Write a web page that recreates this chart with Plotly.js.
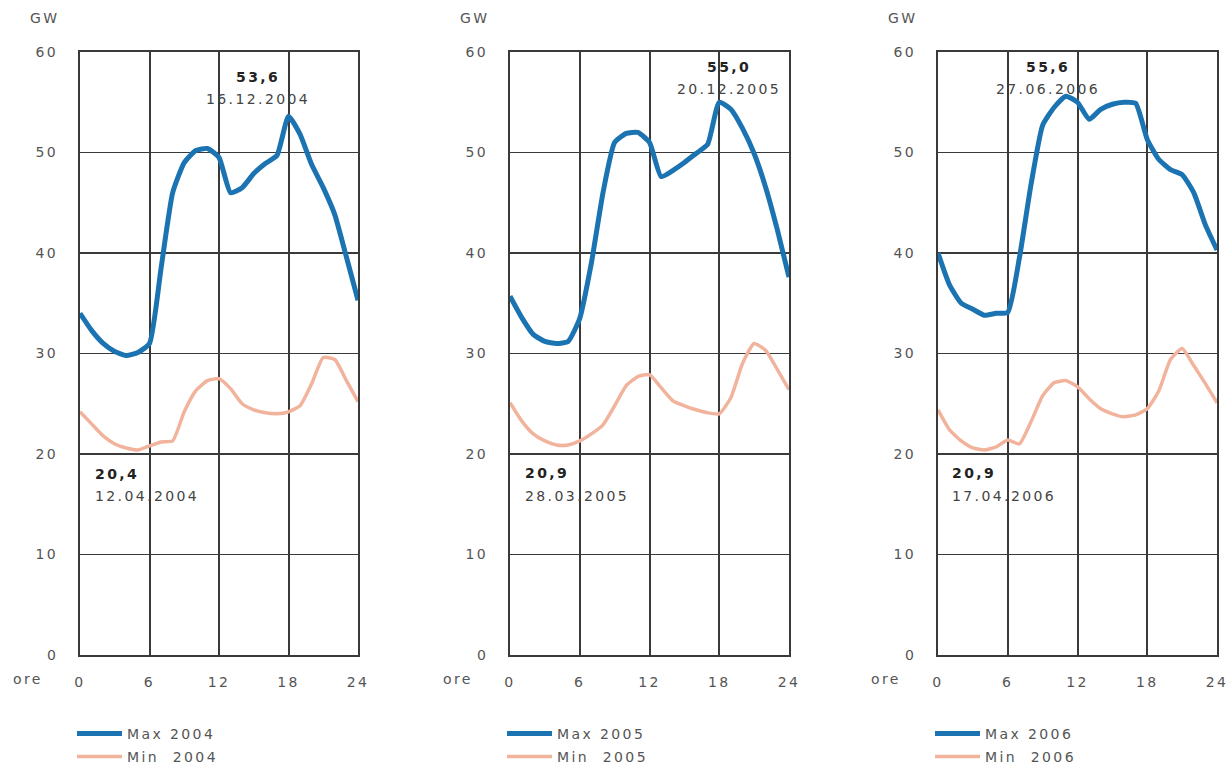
<!DOCTYPE html>
<html>
<head>
<meta charset="utf-8">
<script src="https://cdn.plot.ly/plotly-3.0.1.min.js"></script>
<style>
html,body{margin:0;padding:0;background:#fff;}
#chart{width:1228px;height:766px;}
svg text{letter-spacing:2.4px;}
</style>
</head>
<body>
<div id="chart"></div>
<script>
// ---- data ----
const hours = [0,1,2,3,4,5,6,7,8,9,10,11,12,13,14,15,16,17,18,19,20,21,22,23,24];
const xTicks = [0,6,12,18,24];
const yTicks = [0,10,20,30,40,50,60];

const max2004 = [34.0,32.3,31.0,30.2,29.8,30.1,31.0,38.5,46.0,49.0,50.2,50.4,49.5,46.0,46.5,47.9,48.9,49.7,53.6,51.8,48.8,46.5,43.8,39.6,35.3];
const min2004 = [24.2,23.0,21.8,21.0,20.6,20.4,20.8,21.2,21.3,24.2,26.3,27.3,27.5,26.5,25.0,24.4,24.1,24.0,24.2,24.8,27.0,29.6,29.4,27.3,25.2];
const max2005 = [35.7,33.6,31.9,31.2,31.0,31.2,33.5,39.0,46.0,51.0,51.9,52.0,51.0,47.6,48.2,49.0,49.9,50.8,55.0,54.3,52.4,49.9,46.5,42.3,37.6];
const min2005 = [25.1,23.3,22.0,21.3,20.9,20.9,21.3,22.0,22.9,24.8,26.8,27.7,27.9,26.6,25.3,24.8,24.4,24.1,24.0,25.6,29.0,31.0,30.3,28.4,26.4];
const max2006 = [40.0,36.8,35.0,34.4,33.8,34.0,34.1,39.5,46.8,52.7,54.5,55.6,55.0,53.3,54.3,54.8,55.0,54.9,51.3,49.3,48.3,47.8,46.0,42.8,40.3];
const min2006 = [24.4,22.4,21.3,20.6,20.4,20.7,21.4,21.0,23.2,25.8,27.1,27.3,26.7,25.5,24.5,24.0,23.7,23.9,24.5,26.3,29.4,30.5,28.8,27.0,25.1];

const maxNames = ['Max 2004','Max 2005','Max 2006'];
const minNames = ['Min\u00a0 2004','Min\u00a0 2005','Min\u00a0 2006'];
const peakValues = ['53,6','55,0','55,6'];
const peakDates = ['16.12.2004','20.12.2005','27.06.2006'];
const lowValues = ['20,4','20,9','20,9'];
const lowDates = ['12.04.2004','28.03.2005','17.04.2006'];
const unitLabel = 'GW';
const hourLabel = 'ore';

// ---- layout helpers ----
const W = 1228, H = 766;
const px = v => v / W;
const py = v => 1 - v / H;
const panelsPx = [[80,358],[510,789],[938,1217]];
const yDomain = [py(655), py(52)];
const blue = '#1b74b1';
const salmon = '#f2b39d';
const gridCol = '#3a3a3a';
const FAM = 'DejaVu Sans, sans-serif';
const tickFont = {family:FAM, size:14, color:'#555'};

const maxSeries = [max2004, max2005, max2006];
const minSeries = [min2004, min2005, min2006];

const traces = [];
const layout = {
  width: W, height: H,
  margin: {l:0, r:0, t:0, b:0, autoexpand:false},
  paper_bgcolor:'#fff', plot_bgcolor:'#fff',
  font: {family:FAM, size:14, color:'#444'},
  annotations: [],
  showlegend: true
};

for (let i = 0; i < 3; i++) {
  const sx = i === 0 ? '' : String(i + 1);
  const xa = 'x' + sx, ya = 'y' + sx;
  const lgMax = 'legend' + (i === 0 ? '' : String(2 * i + 1));
  const lgMin = 'legend' + String(2 * i + 2);
  traces.push({
    x: hours, y: maxSeries[i], xaxis: xa, yaxis: ya, type: 'scatter', mode: 'lines',
    name: maxNames[i], legend: lgMax,
    line: {color: blue, width: 5, shape: 'spline', smoothing: 0.5}
  });
  traces.push({
    x: hours, y: minSeries[i], xaxis: xa, yaxis: ya, type: 'scatter', mode: 'lines',
    name: minNames[i], legend: lgMin,
    line: {color: salmon, width: 3.5, shape: 'spline', smoothing: 0.5}
  });
  const [l, r] = panelsPx[i];
  layout['xaxis' + sx] = {
    domain: [px(l), px(r)], range: [0, 24], anchor: ya,
    tickvals: xTicks, ticktext: xTicks.map(String), ticks: '',
    showgrid: true, gridcolor: gridCol, gridwidth: 2,
    zeroline: false, showline: true, linecolor: gridCol, linewidth: 2, mirror: true,
    tickfont: tickFont, ticklabelstandoff: 13, ticklabeloverflow: 'allow', fixedrange: true
  };
  layout['yaxis' + sx] = {
    domain: yDomain, range: [0, 60], anchor: xa,
    tickvals: yTicks, ticktext: yTicks.map(String), ticks: '',
    showgrid: true, gridcolor: gridCol, gridwidth: 1.8,
    zeroline: false, showline: true, linecolor: gridCol, linewidth: 2, mirror: true,
    tickfont: tickFont, ticklabelstandoff: 17, fixedrange: true
  };
  // legends
  const lgFont = {family:FAM, size:14, color:'#555'};
  layout[lgMax] = {x: px(l - 8), y: py(734), xanchor:'left', yanchor:'middle',
    bgcolor:'rgba(0,0,0,0)', borderwidth:0, font: lgFont, itemwidth: 45};
  layout[lgMin] = {x: px(l - 8), y: py(757), xanchor:'left', yanchor:'middle',
    bgcolor:'rgba(0,0,0,0)', borderwidth:0, font: lgFont, itemwidth: 45};
  // axis captions
  layout.annotations.push({xref:'paper', yref:'paper', x: px(l - 35), y: py(18),
    text: unitLabel, showarrow:false, xanchor:'center', yanchor:'middle', font: tickFont});
  layout.annotations.push({xref:'paper', yref:'paper', x: px(l - 52), y: py(679),
    text: hourLabel, showarrow:false, xanchor:'center', yanchor:'middle', font: tickFont});
}

// value annotations
const peakPx = [[258,77,99],[729,67,89],[1048,67,89]];
const lowPx = [[93,474,496],[523,473,496],[950,473,496]];
for (let i = 0; i < 3; i++) {
  layout.annotations.push({xref:'paper', yref:'paper', x: px(peakPx[i][0]), y: py(peakPx[i][1]),
    text: '<b>' + peakValues[i] + '</b>', showarrow:false, xanchor:'center', yanchor:'middle',
    font:{family:FAM, size:14, color:'#222'}});
  layout.annotations.push({xref:'paper', yref:'paper', x: px(peakPx[i][0]), y: py(peakPx[i][2]),
    text: peakDates[i], showarrow:false, xanchor:'center', yanchor:'middle',
    font:{family:FAM, size:14, color:'#444'}});
  layout.annotations.push({xref:'paper', yref:'paper', x: px(lowPx[i][0]), y: py(lowPx[i][1]),
    text: '<b>' + lowValues[i] + '</b>', showarrow:false, xanchor:'left', yanchor:'middle',
    font:{family:FAM, size:14, color:'#222'}});
  layout.annotations.push({xref:'paper', yref:'paper', x: px(lowPx[i][0]), y: py(lowPx[i][2]),
    text: lowDates[i], showarrow:false, xanchor:'left', yanchor:'middle',
    font:{family:FAM, size:14, color:'#444'}});
}

Plotly.newPlot('chart', traces, layout, {staticPlot: true, displayModeBar: false});
</script>
</body>
</html>
